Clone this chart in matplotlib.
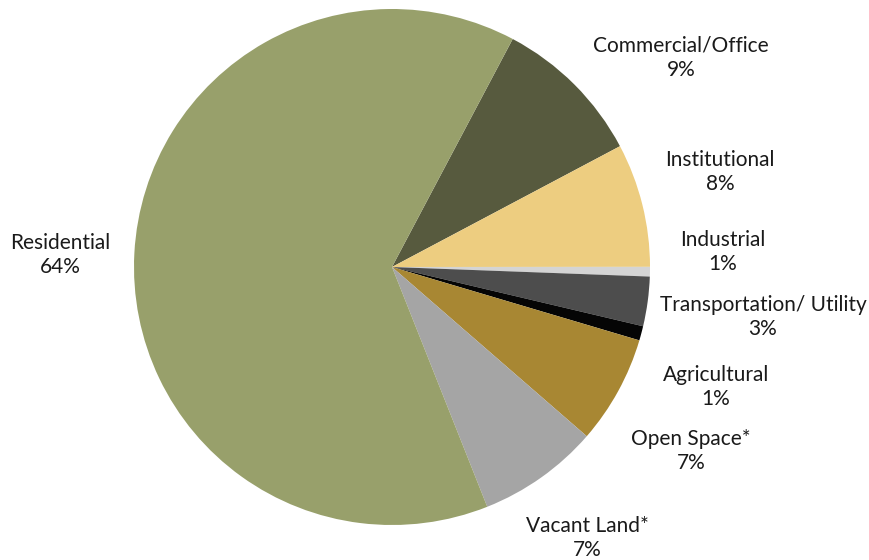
import matplotlib
matplotlib.use("Agg")
import matplotlib.pyplot as plt

categories = ["Commercial/Office", "Institutional", "Industrial", "Transportation/ Utility",
              "Agricultural", "Open Space*", "Vacant Land*", "Residential"]
values = [9.5, 7.75, 0.6, 3.1, 0.9, 6.8, 7.6, 63.8]
pct_labels = ["9%", "8%", "1%", "3%", "1%", "7%", "7%", "64%"]
colors = ["#575A3E", "#EDCD80", "#D4D4D4", "#4D4D4D", "#050505", "#A88733", "#A5A5A5", "#98A06B"]

# label centres in pixel coordinates (image y from top)
label_pos = [(681, 58), (720, 172), (723, 252), (763, 317), (716, 387), (691, 451), (587, 538), (60, 255)]

fig = plt.figure(figsize=(8.7, 5.6), dpi=100)
ax = fig.add_axes([0, 0, 1, 1])
ax.set_xlim(0, 870)
ax.set_ylim(0, 560)
ax.set_aspect("equal")
ax.axis("off")

ax.pie(values, colors=colors, startangle=62.1, counterclock=False,
       center=(392, 560 - 267), radius=258, wedgeprops=dict(linewidth=0))
ax.set_xlim(0, 870)
ax.set_ylim(0, 560)

for cat, pct, (x, y) in zip(categories, pct_labels, label_pos):
    ax.text(x, 560 - y, f"{cat}\n{pct}", ha="center", va="center", fontsize=15,
            family="Lato", color="#1a1a1a", linespacing=1.3)

fig.savefig("out.png", dpi=100)
